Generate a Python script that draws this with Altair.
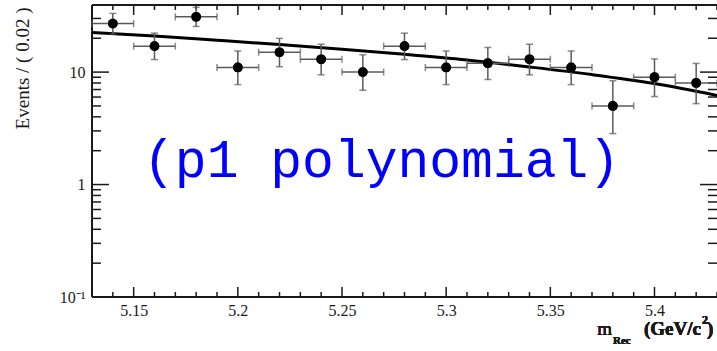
import altair as alt
import pandas as pd

# Binned event counts, bin width 0.02 GeV/c^2
bin_center = [5.14, 5.16, 5.18, 5.20, 5.22, 5.24, 5.26, 5.28,
              5.30, 5.32, 5.34, 5.36, 5.38, 5.40, 5.42]
events = [27, 17, 31, 11, 15, 13, 10, 17, 11, 12, 13, 11, 5, 9, 8]
# asymmetric Poisson (68%) interval bounds per bin
err_low = [21.84, 12.92, 25.47, 7.74, 11.17, 9.45, 6.90, 12.92,
           7.74, 8.59, 9.45, 7.74, 2.84, 6.06, 5.24]
err_high = [33.26, 22.20, 37.62, 15.41, 19.95, 17.69, 14.26, 22.20,
            15.41, 16.55, 17.69, 15.41, 8.38, 13.10, 11.94]
bin_width = 0.02

# first-order polynomial fit, sampled along the range
fit_x = [5.13, 5.16, 5.19, 5.22, 5.25, 5.28, 5.31, 5.34, 5.37, 5.40, 5.43]
fit_y = [22.5, 20.9, 19.2, 17.6, 16.0, 14.4, 12.8, 11.1, 9.5, 7.9, 6.2]

# axis ticks
x_major = [5.15, 5.20, 5.25, 5.30, 5.35, 5.40]
x_minor = [5.13, 5.14, 5.16, 5.17, 5.18, 5.19, 5.21, 5.22, 5.23, 5.24,
           5.26, 5.27, 5.28, 5.29, 5.31, 5.32, 5.33, 5.34, 5.36, 5.37,
           5.38, 5.39, 5.41, 5.42, 5.43]
y_major = [0.1, 1, 10]
y_minor = [0.2, 0.3, 0.4, 0.5, 0.6, 0.7, 0.8, 0.9,
           2, 3, 4, 5, 6, 7, 8, 9, 20, 30]

label_text = ["(p1 polynomial)"]
label_x = [5.269]
label_y = [1.17]

W, H = 625, 292
SERIF = "Liberation Serif"
INK = "#1a1a1a"

df = pd.DataFrame({"x": bin_center, "n": events, "lo": err_low, "hi": err_high})
df["xlo"] = df["x"] - bin_width / 2
df["xhi"] = df["x"] + bin_width / 2
fit = pd.DataFrame({"x": fit_x, "y": fit_y})
xmaj = pd.DataFrame({"v": x_major})
xmin = pd.DataFrame({"v": x_minor})
ymaj = pd.DataFrame({"v": y_major})
ymin = pd.DataFrame({"v": y_minor})
lab = pd.DataFrame({"x": label_x, "y": label_y, "t": label_text})

xs = alt.Scale(domain=[5.13, 5.43], nice=False, zero=False)
ys = alt.Scale(type="log", domain=[0.1, 39.5], nice=False)

x_axis = alt.Axis(values=x_major, format=".2~f", ticks=False, domain=False,
                  grid=False, labelFont=SERIF, labelFontSize=16,
                  labelColor=INK, labelPadding=5, title=None)
y_axis = alt.Axis(values=y_major, ticks=False, domain=False, grid=False,
                  labelExpr="datum.value < 0.5 ? '10⁻¹' : (datum.value < 5 ? '1' : '10')",
                  labelFont=SERIF, labelFontSize=16, labelColor=INK,
                  labelPadding=7, title="Events / ( 0.02 )",
                  titleFont=SERIF, titleFontSize=19, titleFontWeight="normal",
                  titleColor=INK, titleAngle=270, titleX=-70, titleY=2,
                  titleAlign="right", titleBaseline="middle")

points = alt.Chart(df).mark_circle(size=95, color="black", opacity=1).encode(
    x=alt.X("x:Q", scale=xs, axis=x_axis),
    y=alt.Y("n:Q", scale=ys, axis=y_axis),
)

bar_col = "#5a5a5a"
vbars = alt.Chart(df).mark_rule(color=bar_col, strokeWidth=1.5).encode(
    x=alt.X("x:Q", scale=xs), y=alt.Y("lo:Q", scale=ys), y2="hi:Q")
hbars = alt.Chart(df).mark_rule(color=bar_col, strokeWidth=1.5).encode(
    x=alt.X("xlo:Q", scale=xs), x2="xhi:Q", y=alt.Y("n:Q", scale=ys))
cap_lo = alt.Chart(df).mark_tick(color=bar_col, orient="horizontal", size=7, thickness=1.5).encode(
    x=alt.X("x:Q", scale=xs), y=alt.Y("lo:Q", scale=ys))
cap_hi = alt.Chart(df).mark_tick(color=bar_col, orient="horizontal", size=7, thickness=1.5).encode(
    x=alt.X("x:Q", scale=xs), y=alt.Y("hi:Q", scale=ys))
cap_l = alt.Chart(df).mark_tick(color=bar_col, orient="vertical", size=7, thickness=1.5).encode(
    x=alt.X("xlo:Q", scale=xs), y=alt.Y("n:Q", scale=ys))
cap_r = alt.Chart(df).mark_tick(color=bar_col, orient="vertical", size=7, thickness=1.5).encode(
    x=alt.X("xhi:Q", scale=xs), y=alt.Y("n:Q", scale=ys))

curve = alt.Chart(fit).mark_line(color="black", strokeWidth=3, interpolate="monotone").encode(
    x=alt.X("x:Q", scale=xs), y=alt.Y("y:Q", scale=ys))

tag = alt.Chart(lab).mark_text(font="Liberation Mono", fontSize=53, color="#0000ff",
                               align="center", baseline="alphabetic").encode(
    x=alt.X("x:Q", scale=xs), y=alt.Y("y:Q", scale=ys), text="t:N")

tick_style = dict(color=INK, strokeWidth=1.5)


def xticks(data, y0, y1):
    return alt.Chart(data).mark_rule(**tick_style).encode(
        x=alt.X("v:Q", scale=xs), y=alt.value(y0), y2=alt.value(y1))


def yticks(data, x0, x1):
    return alt.Chart(data).mark_rule(**tick_style).encode(
        y=alt.Y("v:Q", scale=ys), x=alt.value(x0), x2=alt.value(x1))


ticks = [
    xticks(xmaj, H, H - 10), xticks(xmin, H, H - 5),
    xticks(xmaj, 0, 10), xticks(xmin, 0, 5),
    yticks(ymaj, 0, 17), yticks(ymin, 0, 9),
    yticks(ymaj, W, W - 17), yticks(ymin, W, W - 9),
]

# frame: left, bottom and top edges
frame_style = dict(color=INK, strokeWidth=2)
frame = [
    alt.Chart(xmaj).mark_rule(**frame_style).encode(
        x=alt.value(0), y=alt.value(0), y2=alt.value(H)),
    alt.Chart(xmaj).mark_rule(**frame_style).encode(
        x=alt.value(0), x2=alt.value(W), y=alt.value(H)),
    alt.Chart(xmaj).mark_rule(**frame_style).encode(
        x=alt.value(0), x2=alt.value(W), y=alt.value(0)),
]


# x-axis title pieces: m_Rec (GeV/c^2)
def piece(text, x, y, size, weight, align):
    return alt.Chart(xmaj).mark_text(
        text=text, font=SERIF, fontSize=size, fontWeight=weight, color=INK,
        align=align, baseline="alphabetic").encode(x=alt.value(x), y=alt.value(y))


xtitle = [
    piece("m", 520, 330, 19, "normal", "right"),
    piece("Rec", 521, 339, 11, "bold", "left"),
    piece("(GeV/c", 609, 330, 19, "bold", "right"),
    piece("2", 610, 319, 12, "bold", "left"),
    piece(")", 615, 330, 19, "bold", "left"),
]

chart = alt.layer(
    points, *frame, *ticks, curve, vbars, hbars, cap_lo, cap_hi, cap_l, cap_r,
    points, tag, *xtitle,
).properties(
    width=W, height=H,
    autosize=alt.AutoSizeParams(type="none"),
    padding={"left": 92, "top": 5, "right": 0, "bottom": 54},
).configure_view(stroke="transparent").configure(background="white")

chart.save("out.html", embed_options={"renderer": "svg", "actions": False})
